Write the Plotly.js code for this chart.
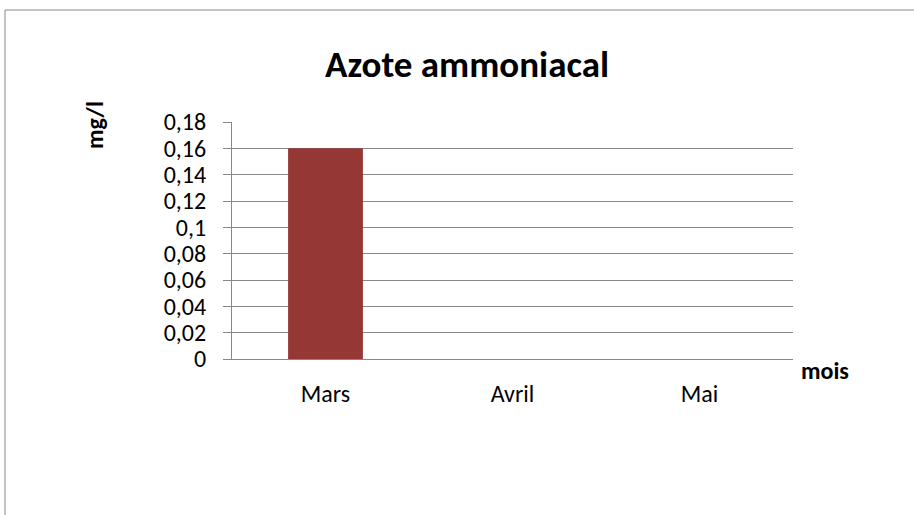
<!DOCTYPE html>
<html>
<head>
<meta charset="utf-8">
<script src="https://cdn.plot.ly/plotly-3.0.1.min.js"></script>
<style>html,body{margin:0;padding:0;background:#fff;}#chart{width:914px;height:515px;}</style>
</head>
<body>
<div id="chart"></div>
<script>
const categories = ["Mars", "Avril", "Mai"];
const values = [0.16, 0, 0];
const chartTitle = "Azote ammoniacal";
const yTitle = "mg/l";
const xTitle = "mois";

const FONT = "Carlito, Lato, 'Open Sans', sans-serif";
const L = 232, R = 793, T = 122, B = 359, W = 914, H = 515;
const px = x => (x - L) / (R - L);
const py = y => (B - y) / (B - T);

const data = [{
  type: "bar",
  x: categories,
  y: values,
  marker: {color: "#953735"},
  hoverinfo: "x+y"
}];

const layout = {
  width: W, height: H,
  margin: {l: L, r: W - R, t: T, b: H - B, pad: 0},
  paper_bgcolor: "#fff", plot_bgcolor: "#fff",
  separators: ",.",
  showlegend: false,
  bargap: 0.6,
  font: {family: FONT, size: 24, color: "#000"},
  title: {text: "<b>" + chartTitle + "</b>", font: {family: FONT, size: 37, color: "#000"},
          x: 0.511, xanchor: "center", y: 1 - 64 / H, yanchor: "middle"},
  xaxis: {
    showgrid: false, showline: true, linecolor: "#888", linewidth: 1,
    ticks: "", ticklabelstandoff: 13, tickfont: {family: FONT, size: 24, color: "#000"},
    zeroline: false, fixedrange: true
  },
  yaxis: {
    range: [0, 0.18], dtick: 0.02, tick0: 0,
    showgrid: true, gridcolor: "#888", gridwidth: 1,
    showline: true, linecolor: "#888", linewidth: 1,
    ticks: "outside", ticklen: 8, tickcolor: "#888",
    ticklabelstandoff: 12,
    tickfont: {family: FONT, size: 24, color: "#000"},
    zeroline: false, fixedrange: true
  },
  annotations: [
    {text: "<b>" + yTitle + "</b>", xref: "paper", yref: "paper", x: px(95), y: py(125),
     xanchor: "center", yanchor: "middle", textangle: -90, showarrow: false,
     font: {family: FONT, size: 24, color: "#000"}},
    {text: "<b>" + xTitle + "</b>", xref: "paper", yref: "paper", x: px(799), y: py(370),
     xanchor: "left", yanchor: "middle", showarrow: false,
     font: {family: FONT, size: 24, color: "#000"}}
  ],
  shapes: [
    {type: "rect", xref: "paper", yref: "paper", x0: px(5), x1: px(1000), y0: py(10), y1: py(700),
     line: {color: "#888", width: 1}, fillcolor: "rgba(0,0,0,0)", layer: "below"}
  ]
};

Plotly.newPlot("chart", data, layout, {displayModeBar: false, staticPlot: true});
</script>
</body>
</html>
